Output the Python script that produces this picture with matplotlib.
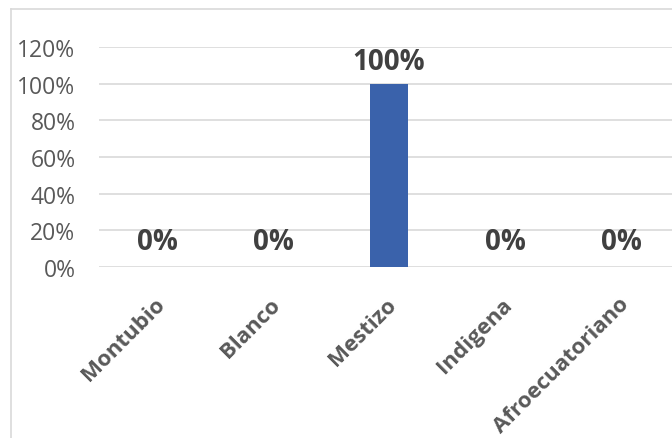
import matplotlib
matplotlib.use("Agg")
from matplotlib import pyplot as plt
from matplotlib.ticker import PercentFormatter
from matplotlib.transforms import ScaledTranslation

categories = ["Montubio", "Blanco", "Mestizo", "Indigena", "Afroecuatoriano"]
values = [0, 0, 100, 0, 0]
y_ticks = [0, 20, 40, 60, 80, 100, 120]

plt.rcParams['font.family'] = ['Open Sans', 'DejaVu Sans']

fig = plt.figure(figsize=(6.72, 4.39), dpi=100)
W, H = 672.0, 439.0
ax = fig.add_axes([99 / W, (H - 268) / H, 580 / W, 220 / H])

# chart frame (left and top edges visible)
fig.add_artist(plt.Line2D([11 / W, 11 / W], [0, (H - 10) / H], color='#d9d9d9', lw=1.2))
fig.add_artist(plt.Line2D([11 / W, 1.0], [(H - 10) / H, (H - 10) / H], color='#d9d9d9', lw=1.2))

x = range(len(categories))
ax.bar(x, values, width=0.32, color='#3a62ab', zorder=3)
ax.set_xlim(-0.5, len(categories) - 0.5)
ax.set_ylim(0, 120)
ax.set_yticks(y_ticks)
ax.yaxis.set_major_formatter(PercentFormatter(decimals=0))
ax.grid(axis='y', color='#d9d9d9', lw=1.2, zorder=0)
for s in ax.spines.values():
    s.set_visible(False)
ax.tick_params(axis='both', length=0)
ax.tick_params(axis='y', labelsize=16.5, labelcolor='#595959', pad=17)
ax.set_xticks(list(x))
ax.set_xticklabels(categories, rotation=45, ha='right', rotation_mode='anchor',
                   fontsize=16, color='#595959', fontweight='bold')
ax.tick_params(axis='x', pad=19)
shift = ScaledTranslation(-3 / 100, 0, fig.dpi_scale_trans)
for lbl in ax.get_xticklabels():
    lbl.set_transform(lbl.get_transform() + shift)

for xi, v in zip(x, values):
    off = 8 if v > 0 else 10
    ax.text(xi, v + off, f"{v}%", ha='center', va='baseline', fontsize=20,
            fontweight='bold', color='#404040')

fig.savefig("out.png", dpi=100)
